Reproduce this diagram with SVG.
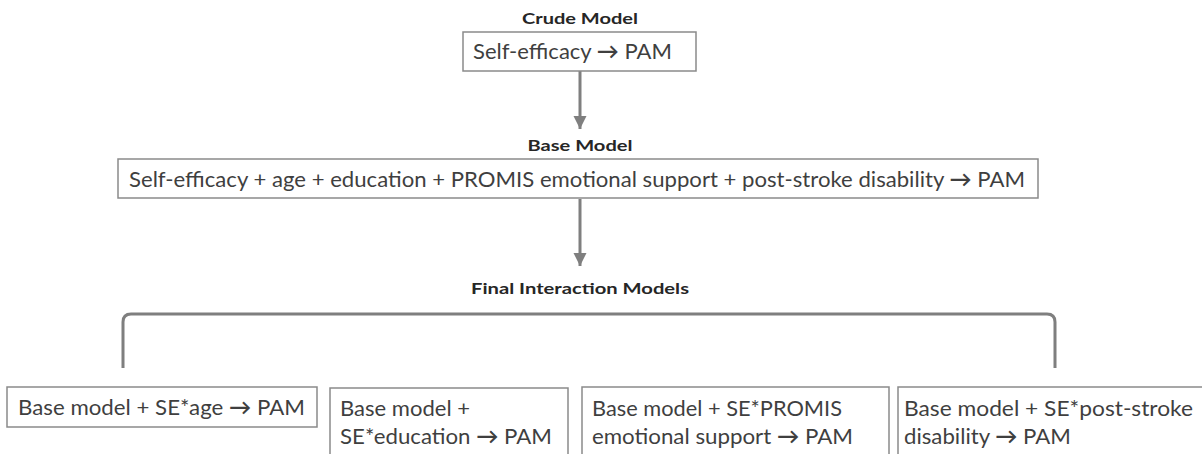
<svg xmlns="http://www.w3.org/2000/svg" width="1202" height="454" viewBox="0 0 1202 454">
  <style>
    .box { fill: #ffffff; stroke: #8a8a8a; stroke-width: 1.5; }
    .txt { font-family: Lato, "Open Sans", "Liberation Sans", sans-serif; font-size: 22px; fill: #3f3f3f; }
    .ttl { font-family: Lato, "Open Sans", "Liberation Sans", sans-serif; font-size: 16px; font-weight: bold; fill: #262626; }
    .ar { font-weight: bold; }
    .conn { fill: none; stroke: #7f7f7f; stroke-width: 3; }
  </style>
  <defs>
    <marker id="arr" markerUnits="userSpaceOnUse" markerWidth="14" markerHeight="14" viewBox="0 0 14 14" refX="13" refY="7" orient="auto">
      <path d="M0,0.5 L13,7 L0,13.5 Z" fill="#7f7f7f"/>
    </marker>
  </defs>
  <rect width="1202" height="454" fill="#ffffff"/>

  <text class="ttl" x="580" y="23.5" text-anchor="middle" textLength="116" lengthAdjust="spacingAndGlyphs">Crude Model</text>
  <text class="ttl" x="580" y="150.5" text-anchor="middle" textLength="105" lengthAdjust="spacingAndGlyphs">Base Model</text>
  <text class="ttl" x="580" y="293.5" text-anchor="middle" textLength="218" lengthAdjust="spacingAndGlyphs">Final Interaction Models</text>

  <g id="connectors">
    <line class="conn" x1="580" y1="71" x2="580" y2="129" marker-end="url(#arr)"/>
    <line class="conn" x1="580" y1="199" x2="580" y2="266" marker-end="url(#arr)"/>
    <path class="conn" d="M123,368 V322 Q123,314 131,314 H1047 Q1055,314 1055,322 V368"/>
  </g>

  <g id="crude">
    <rect class="box" x="463" y="32" width="233" height="39"/>
    <text class="txt" x="473" y="59" textLength="199" lengthAdjust="spacingAndGlyphs">Self-efficacy <tspan class="ar">→</tspan> PAM</text>
  </g>

  <g id="base">
    <rect class="box" x="118" y="159" width="920" height="39"/>
    <text class="txt" x="129" y="187" textLength="896" lengthAdjust="spacingAndGlyphs">Self-efficacy + age + education + PROMIS emotional support + post-stroke disability <tspan class="ar">→</tspan> PAM</text>
  </g>

  <g id="m-age">
    <rect class="box" x="7" y="387" width="310" height="40"/>
    <text class="txt" x="18" y="415" textLength="287" lengthAdjust="spacingAndGlyphs">Base model + SE*age <tspan class="ar">→</tspan> PAM</text>
  </g>

  <g id="m-education">
    <rect class="box" x="330" y="388" width="238" height="80"/>
    <text class="txt" x="340" y="416" textLength="130" lengthAdjust="spacingAndGlyphs">Base model +</text>
    <text class="txt" x="340" y="444" textLength="212" lengthAdjust="spacingAndGlyphs">SE*education <tspan class="ar">→</tspan> PAM</text>
  </g>

  <g id="m-promis">
    <rect class="box" x="582" y="387" width="307" height="80"/>
    <text class="txt" x="592" y="416" textLength="250" lengthAdjust="spacingAndGlyphs">Base model + SE*PROMIS</text>
    <text class="txt" x="592" y="444" textLength="261" lengthAdjust="spacingAndGlyphs">emotional support <tspan class="ar">→</tspan> PAM</text>
  </g>

  <g id="m-disability">
    <rect class="box" x="898" y="387" width="320" height="80"/>
    <text class="txt" x="904" y="416" textLength="289" lengthAdjust="spacingAndGlyphs">Base model + SE*post-stroke</text>
    <text class="txt" x="904" y="444" textLength="167" lengthAdjust="spacingAndGlyphs">disability <tspan class="ar">→</tspan> PAM</text>
  </g>
</svg>
